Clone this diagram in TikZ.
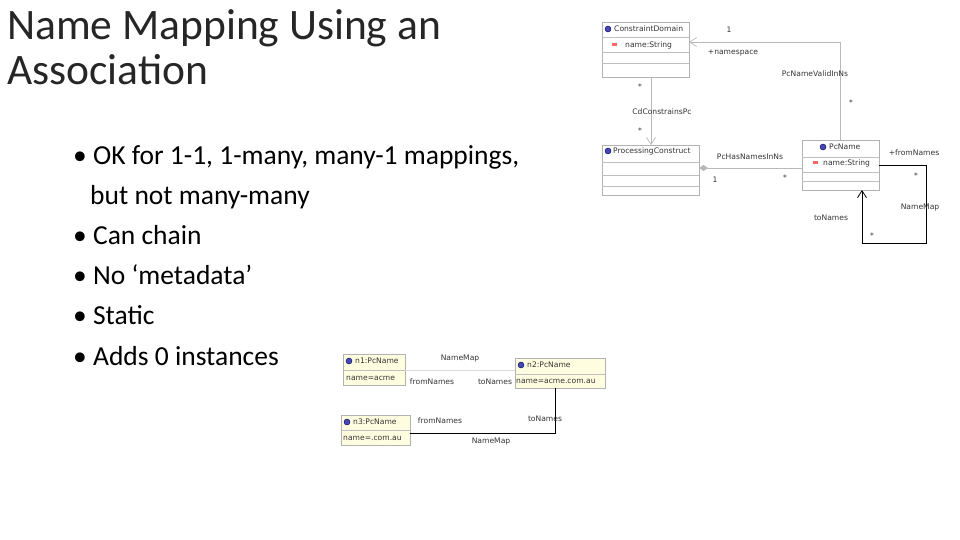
\documentclass[tikz,border=0pt]{standalone}
\usepackage{fontspec}
\setmainfont{Carlito}
\newfontfamily\umlf{DejaVu Sans}
\usetikzlibrary{arrows.meta}
\begin{document}
\begin{tikzpicture}[x=1pt,y=-1pt,
  cls/.style={draw=gray!60,fill=white,line width=0.6pt},
  row/.style={draw=gray!50,line width=0.5pt},
  lbl/.style={font=\umlf\fontsize{7.6}{8}\selectfont,text=black!80,inner sep=0pt},
  conn/.style={draw=gray!55,line width=0.7pt},
  dconn/.style={draw=black,line width=0.8pt},
  oarr/.style={-{Straight Barb[length=7pt,width=9pt]}},
  ico/.style={circle,fill=blue!45!gray,draw=blue!30!black,inner sep=0pt,minimum size=6pt},
  att/.style={fill=red!60,inner sep=0pt,minimum width=5pt,minimum height=3pt},
  inst/.style={draw=gray!60,fill=yellow!12,line width=0.6pt}]
\useasboundingbox (0,0) rectangle (960,540);
% title & bullets
\node[anchor=north west,align=left,inner sep=0pt,text=black!85,font=\fontsize{43.5}{45}\selectfont] (title) at (7,9) {Name Mapping Using an\\Association};
\node[anchor=north west,align=left,inner sep=0pt,font=\fontsize{27.5}{40.2}\selectfont] (bul) at (73,145)
 {\textbullet\ OK for 1-1, 1-many, many-1 mappings,\\
  \hspace*{17pt}but not many-many\\
  \textbullet\ Can chain\\
  \textbullet\ No ‘metadata’\\
  \textbullet\ Static\\
  \textbullet\ Adds 0 instances};
% ConstraintDomain
\draw[cls] (602,22) rectangle (689,77);
\draw[row] (602,37)--(689,37) (602,52)--(689,52) (602,63)--(689,63);
\node[ico] (i1) at (608,29) {};
\node[lbl,anchor=west] (cd) at (614,29) {ConstraintDomain};
\node[att] (a1) at (614,45) {};
\node[lbl,anchor=west] (cdn) at (625,45) {name:String};
\coordinate (cdR) at (689,42);
\coordinate (cdB) at (651,77);
% ProcessingConstruct
\draw[cls] (602,145) rectangle (699,195);
\draw[row] (602,162)--(699,162) (602,175)--(699,175) (602,186)--(699,186);
\node[ico] (i2) at (608,151) {};
\node[lbl,anchor=west] (pc) at (613,151) {ProcessingConstruct};
\coordinate (pcT) at (651,145);
\coordinate (pcR) at (699,168);
% PcName
\draw[cls] (802,140) rectangle (879,190);
\draw[row] (802,157)--(879,157) (802,172)--(879,172) (802,181)--(879,181);
\node[ico] (i3) at (823,147) {};
\node[lbl,anchor=west] (pn) at (829,147) {PcName};
\node[att] (a3) at (815,163) {};
\node[lbl,anchor=west] (pnn) at (823,163) {name:String};
\coordinate (pnT) at (840,140);
\coordinate (pnL) at (802,168);
\coordinate (pnR) at (879,165);
\coordinate (pnB) at (862,190);
% connectors
\draw[conn,oarr] (pnT) |- (cdR);
\draw[conn,oarr] (cdB) -- (pcT);
\draw[conn,{Diamond[length=9pt,width=6pt,fill=gray!55]}-] (pcR) -- (pnL);
\draw[dconn] (pnR) -- (926,165) -- (926,243) -- (862,243);
\draw[dconn,oarr] (862,243) -- (pnB);
% labels
\node[lbl] (l1) at (729,30) {1};
\node[lbl] (l2) at (733,53) {+namespace};
\node[lbl] (l3) at (815,74) {PcNameValidInNs};
\node[lbl] (l4) at (851,103) {*};
\node[lbl] (l5) at (640,87) {*};
\node[lbl] (l6) at (662,112) {CdConstrainsPc};
\node[lbl] (l7) at (640,131) {*};
\node[lbl] (l8) at (750,157) {PcHasNamesInNs};
\node[lbl] (l9) at (715,180) {1};
\node[lbl] (l10) at (785,178) {*};
\node[lbl] (l11) at (914,153) {+fromNames};
\node[lbl] (l12) at (916,176) {*};
\node[lbl] (l13) at (920,208) {NameMap};
\node[lbl] (l14) at (831,218) {toNames};
\node[lbl] (l15) at (872,236) {*};
% instances
\draw[inst] (343,354) rectangle (405,385); \draw[row] (343,370)--(405,370);
\node[ico] at (349,361) {}; \node[lbl,anchor=west] (n1) at (355,361) {n1:PcName};
\node[lbl,anchor=west] (n1a) at (346,378) {name=acme};
\draw[inst] (515,358) rectangle (605,388); \draw[row] (515,374)--(605,374);
\node[ico] at (521,365) {}; \node[lbl,anchor=west] (n2) at (527,365) {n2:PcName};
\node[lbl,anchor=west] (n2a) at (516,381) {name=acme.com.au};
\draw[inst] (341,415) rectangle (410,445); \draw[row] (341,430)--(410,430);
\node[ico] at (347,422) {}; \node[lbl,anchor=west] (n3) at (353,422) {n3:PcName};
\node[lbl,anchor=west] (n3a) at (343,438) {name=.com.au};
\draw[conn,draw=gray!30] (405,370) -- (515,370);
\draw[dconn] (410,433) -- (555,433) -- (555,388);
\node[lbl] (m1) at (460,359) {NameMap};
\node[lbl] (m2) at (432,382) {fromNames};
\node[lbl] (m3) at (495,382) {toNames};
\node[lbl] (m4) at (440,421) {fromNames};
\node[lbl] (m5) at (545,419) {toNames};
\node[lbl] (m6) at (491,442) {NameMap};
\end{tikzpicture}
\end{document}
